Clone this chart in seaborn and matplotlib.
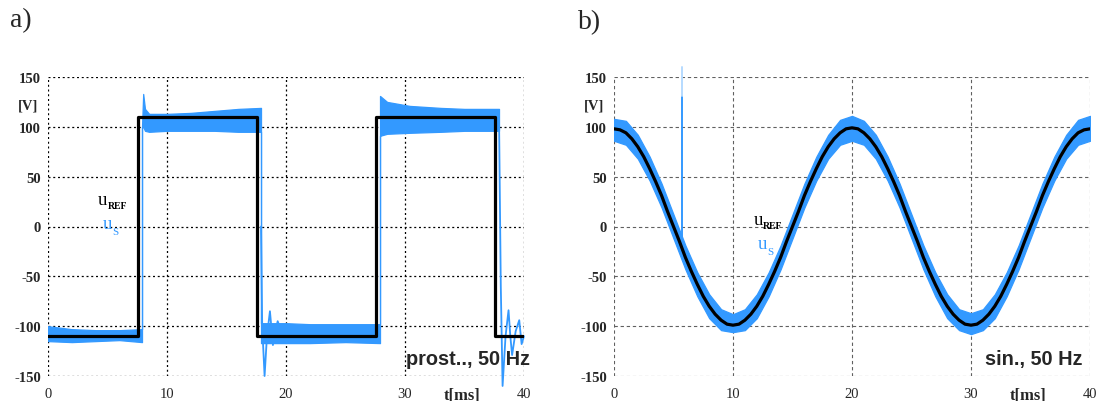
import matplotlib
matplotlib.use("Agg")
import matplotlib.pyplot as plt
import seaborn as sns

# ---------------- data ----------------
# panel a) rectangular reference (time in ms, voltage in V)
t_ref_a = [0.0, 7.6, 7.6, 17.6, 17.6, 27.6, 27.6, 37.6, 37.6, 40.0]
u_ref_a = [-110, -110, 110, 110, -110, -110, 110, 110, -110, -110]

# panel a) measured u_S noise band (upper / lower envelope)
t_band_a = [0.0, 2.0, 4.0, 6.0, 7.9, 7.9, 8.0, 8.15, 8.5, 10.0, 12.0, 14.0, 16.0, 17.9,
            17.9, 20.0, 22.0, 25.0, 27.9, 27.9, 28.5, 30.4, 33.0, 35.0, 37.9]
hi_band_a = [-100, -103, -104, -104, -103, 100, 133, 118, 113, 113, 114, 116, 118, 119,
             -97, -97, -98, -98, -98, 131, 125, 121, 119, 118, 118]
lo_band_a = [-115, -116, -115, -114, -116, 100, 100, 96, 95, 96, 96, 96, 95, 95,
             -117, -117, -117, -116, -117, 91, 93, 94, 95, 96, 96]

# panel a) ringing after the falling edges
t_ring1_a = [17.9, 18.0, 18.2, 18.4, 18.65, 18.8, 18.9, 19.1, 19.3, 19.6]
u_ring1_a = [0, -100, -150, -110, -85, -105, -119, -105, -95, -105]
t_ring2_a = [37.9, 38.05, 38.2, 38.45, 38.7, 38.85, 39.0, 39.3, 39.6, 39.8, 40.0]
u_ring2_a = [110, -60, -160, -110, -84, -110, -129, -105, -94, -118, -110]

# panel b) sinusoidal reference (every 0.5 ms)
t_ref_b = [i * 0.5 for i in range(81)]
u_ref_b = [98, 97, 94, 88, 80, 70, 58, 45, 31, 15, 0, -15, -31, -45, -58, -70, -80, -88, -94, -98,
           -99, -98, -94, -88, -80, -70, -58, -45, -31, -15, 0, 15, 31, 45, 58, 70, 80, 88, 94, 98,
           99, 98, 94, 88, 80, 70, 58, 45, 31, 15, 0, -15, -31, -45, -58, -70, -80, -88, -94, -98,
           -99, -98, -94, -88, -80, -70, -58, -45, -31, -15, 0, 15, 31, 45, 58, 70, 80, 88, 94, 97, 98]

# panel b) measured band (every 1 ms)
t_band_b = list(range(0, 41))
hi_band_b = [108, 106, 92, 70, 43, 12, -19, -46, -68, -83, -88, -83, -68, -46, -19, 12, 43, 70, 92, 107,
             111, 106, 92, 70, 43, 12, -19, -46, -68, -83, -87, -83, -68, -46, -19, 12, 43, 70, 92, 107, 111]
lo_band_b = [86, 82, 68, 46, 19, -12, -43, -70, -92, -104, -106, -104, -92, -70, -43, -12, 19, 46, 68, 82,
             86, 82, 68, 46, 19, -12, -43, -70, -92, -104, -108, -104, -92, -70, -43, -12, 19, 46, 68, 82, 86]

# panel b) single spike
t_spike_b = [5.7, 5.7]
u_spike_b = [-22, 131]
u_spike_top_b = [131, 160]

x_ticks = [0, 10, 20, 30, 40]
y_ticks = [-150, -100, -50, 0, 50, 100, 150]

# ---------------- style ----------------
sns.set_style("white")
plt.rcParams["font.family"] = ["Liberation Serif", "DejaVu Serif"]

BLUE = "#3399ff"
fig = plt.figure(figsize=(11.01, 4.02), dpi=100)
ax_a = fig.add_axes([48 / 1101, 25 / 402, 476 / 1101, 299 / 402])
ax_b = fig.add_axes([614 / 1101, 25 / 402, 476 / 1101, 299 / 402])


def style_axis(ax, gcolor, gls, glw):
    ax.set_xlim(0, 40)
    ax.set_ylim(-150, 150)
    ax.set_xticks(x_ticks)
    ax.set_yticks(y_ticks)
    ax.set_xticklabels([str(v) for v in x_ticks], fontsize=10.5)
    ax.set_yticklabels([str(v) for v in y_ticks], fontsize=10.5, fontweight="bold")
    ax.tick_params(axis="y", length=0, pad=5)
    ax.tick_params(axis="x", length=0, pad=8)
    for s in ax.spines.values():
        s.set_visible(False)
    ax.grid(True, color=gcolor, linestyle=gls, linewidth=glw)
    ax.set_axisbelow(True)
    ax.set_xlabel("")
    ax.set_ylabel("")
    ax.annotate("t[ms]", xy=(34.8, 0), xycoords=ax.get_xaxis_transform(),
                xytext=(0, -8), textcoords="offset points", fontsize=12,
                fontweight="bold", ha="center", va="top", annotation_clip=False)
    ax.text(-0.8, 122, "[V]", fontsize=10.5, fontweight="bold", ha="right", va="center")


# ---- panel a ----
ax = ax_a
ax.fill_between(t_band_a, lo_band_a, hi_band_a, color=BLUE, linewidth=0.9,
                edgecolor=BLUE, zorder=2)
sns.lineplot(x=t_ring1_a, y=u_ring1_a, sort=False, estimator=None, color=BLUE,
             linewidth=1.3, ax=ax, zorder=2, clip_on=False)
sns.lineplot(x=t_ring2_a, y=u_ring2_a, sort=False, estimator=None, color=BLUE,
             linewidth=1.3, ax=ax, zorder=2, clip_on=False)
sns.lineplot(x=t_ref_a, y=u_ref_a, sort=False, estimator=None, color="black",
             linewidth=2.3, ax=ax, zorder=3)
style_axis(ax, "black", (0, (1.6, 2.2)), 0.9)

# ---- panel b ----
ax = ax_b
ax.fill_between(t_band_b, lo_band_b, hi_band_b, color=BLUE, linewidth=0.9,
                edgecolor=BLUE, zorder=2)
sns.lineplot(x=t_spike_b, y=u_spike_b, sort=False, estimator=None, color=BLUE,
             linewidth=1.4, ax=ax, zorder=2)
sns.lineplot(x=t_spike_b, y=u_spike_top_b, sort=False, estimator=None, color="#b5dbff",
             linewidth=1.4, ax=ax, zorder=2, clip_on=False)
sns.lineplot(x=t_ref_b, y=u_ref_b, sort=False, estimator=None, color="black",
             linewidth=2.3, ax=ax, zorder=3)
style_axis(ax, "#606060", (0, (3.0, 2.5)), 0.8)

# ---- annotations ----
for ax, txt, tx in [(ax_a, "prost.., 50 Hz", 40.5), (ax_b, "sin., 50 Hz", 39.4)]:
    ax.text(tx, -132, txt, family="Liberation Sans", fontweight="bold", fontsize=14.3,
            ha="right", va="center", zorder=5)

# u_REF / u_S labels
for ax, (tr, vr), (ts, vs) in [(ax_a, (4.2, 23), (4.6, -2)), (ax_b, (11.7, 3), (12.1, -22))]:
    ax.text(tr, vr, "u", fontsize=13.5, color="black", ha="left", va="baseline", zorder=6)
    ax.annotate("REF", xy=(tr, vr), xytext=(6.8, -3), textcoords="offset points",
                fontsize=7, fontweight="bold", color="black", ha="left", va="baseline", zorder=6)
    ax.text(ts, vs, "u", fontsize=13.5, color=BLUE, ha="left", va="baseline", zorder=6)
    ax.annotate("S", xy=(ts, vs), xytext=(6.8, -4), textcoords="offset points",
                fontsize=8, color=BLUE, ha="left", va="baseline", zorder=6)

fig.text(10 / 1101, 1 - 21 / 402, "a)", fontsize=20, ha="left", va="center")
fig.text(578 / 1101, 1 - 23 / 402, "b)", fontsize=20, ha="left", va="center")

fig.savefig("out.png", dpi=100)
